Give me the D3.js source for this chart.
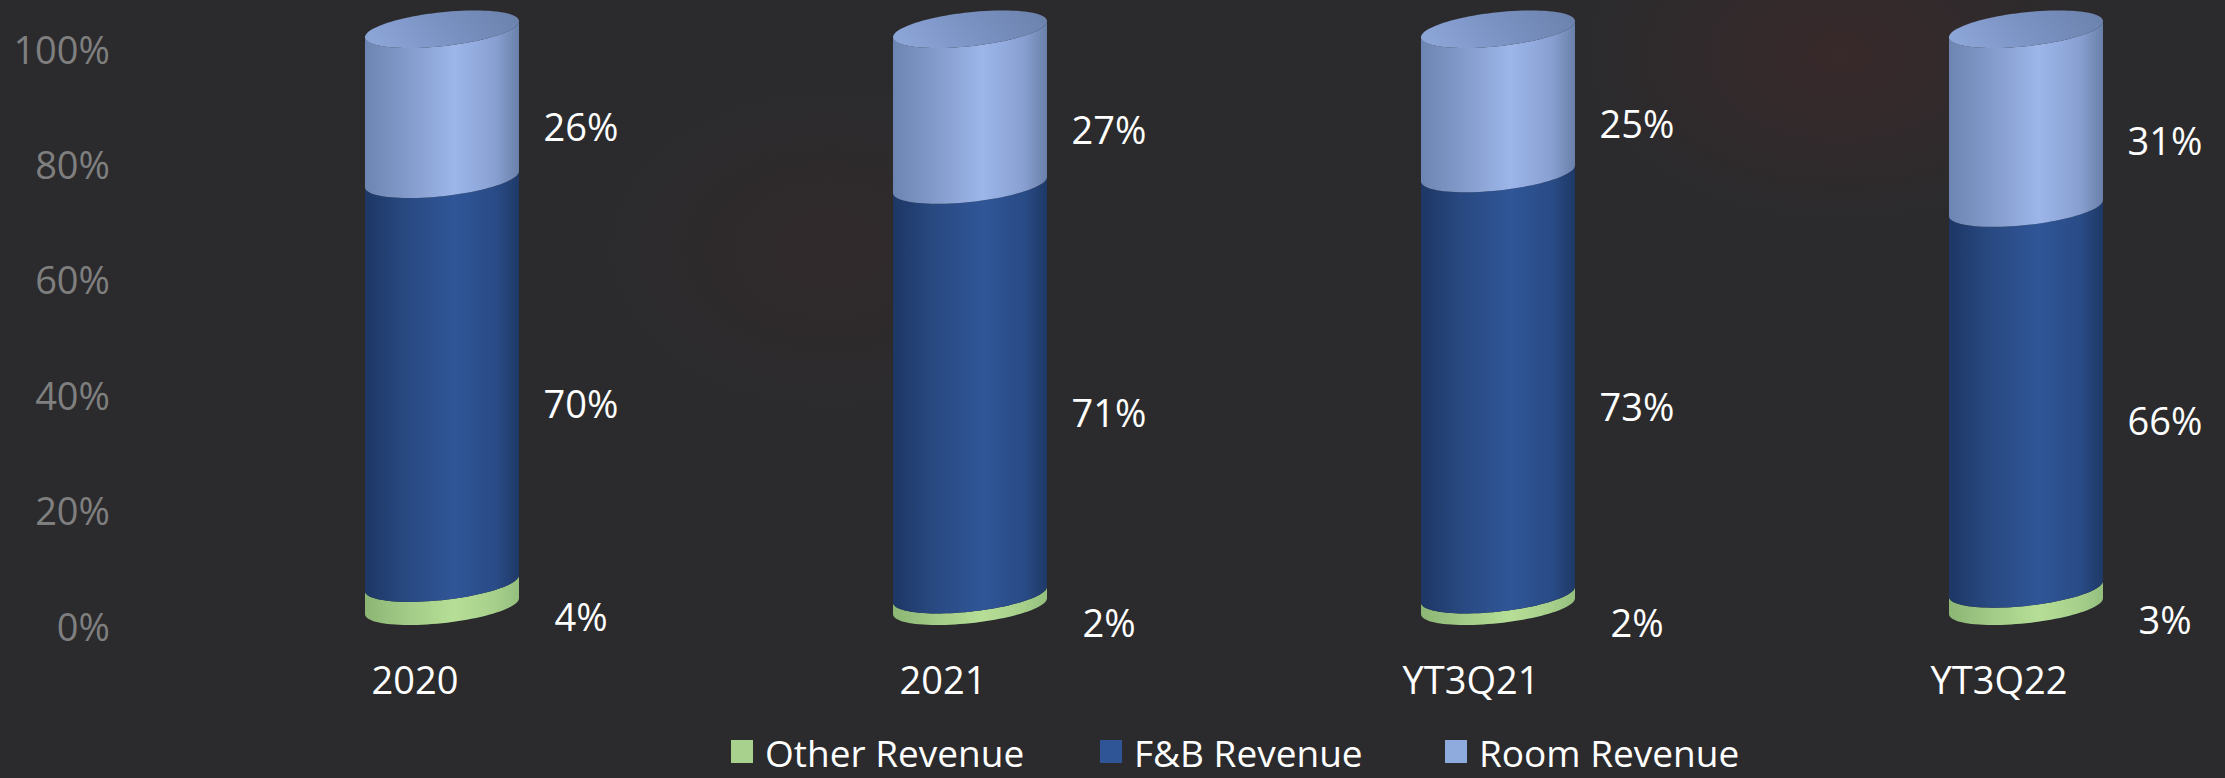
<!DOCTYPE html>
<html>
<head>
<meta charset="utf-8">
<script src="https://cdn.jsdelivr.net/npm/d3@7"></script>
<style>
  html, body { margin: 0; padding: 0; background: #2b2b2d; }
  svg { display: block; }
  text { font-family: "Open Sans", "Noto Sans", sans-serif; }
</style>
</head>
<body>
<svg id="chart" width="2225" height="778"></svg>
<script>
const categories = ["2020", "2021", "YT3Q21", "YT3Q22"];
const otherRevenue = [4, 2, 2, 3];
const fnbRevenue = [70, 71, 73, 66];
const roomRevenue = [26, 27, 25, 31];
const seriesNames = ["Other Revenue", "F&B Revenue", "Room Revenue"];
const seriesColors = ["#a9d18e", "#2f5597", "#8faadc"];
const yTicks = [0, 20, 40, 60, 80, 100];

const W = 2225, H = 778;
const svg = d3.select("#chart");
const defs = svg.append("defs");

// background
svg.append("rect").attr("width", W).attr("height", H).attr("fill", "#2b2b2d");
const glow1 = defs.append("radialGradient").attr("id", "glow1");
glow1.append("stop").attr("offset", 0).attr("stop-color", "rgb(90,35,35)").attr("stop-opacity", 0.28);
glow1.append("stop").attr("offset", 1).attr("stop-color", "rgb(90,35,35)").attr("stop-opacity", 0);
const glow2 = defs.append("radialGradient").attr("id", "glow2");
glow2.append("stop").attr("offset", 0).attr("stop-color", "rgb(80,35,35)").attr("stop-opacity", 0.16);
glow2.append("stop").attr("offset", 1).attr("stop-color", "rgb(80,35,35)").attr("stop-opacity", 0);
svg.append("ellipse").attr("cx", 1840).attr("cy", 55).attr("rx", 260).attr("ry", 170).attr("fill", "url(#glow1)");
svg.append("ellipse").attr("cx", 830).attr("cy", 250).attr("rx", 240).attr("ry", 170).attr("fill", "url(#glow2)");

// gradients
function hGrad(id, stops) {
  const g = defs.append("linearGradient").attr("id", id)
    .attr("x1", 0).attr("y1", 0).attr("x2", 1).attr("y2", 0);
  stops.forEach(([o, c]) => g.append("stop").attr("offset", o).attr("stop-color", c));
}
hGrad("gOther", [[0, "#8db676"], [0.3, "#a3cd88"], [0.58, "#b6de96"], [0.85, "#a6cf8b"], [1, "#95bf7f"]]);
hGrad("gFnb", [[0, "#1d3765"], [0.25, "#284880"], [0.58, "#305698"], [0.85, "#294b86"], [1, "#1e3967"]]);
hGrad("gRoom", [[0, "#6d85b2"], [0.25, "#8199c8"], [0.58, "#9db6ea"], [0.85, "#88a0d1"], [1, "#6a80aa"]]);
const topG = defs.append("linearGradient").attr("id", "gTop")
  .attr("x1", 0).attr("y1", 0.5).attr("x2", 1).attr("y2", 0.3);
topG.append("stop").attr("offset", 0).attr("stop-color", "#8ca5d7");
topG.append("stop").attr("offset", 0.5).attr("stop-color", "#7a92c2");
topG.append("stop").attr("offset", 1).attr("stop-color", "#6c83ae");
const fills = ["url(#gOther)", "url(#gFnb)", "url(#gRoom)"];

// scales
const x = d3.scalePoint().domain(categories).range([415, 1999]);
const y = d3.scaleLinear().domain([0, 100]).range([625, 48]);

// y axis
const yAxis = d3.axisLeft(y).tickValues(yTicks).tickSize(0).tickPadding(0)
  .tickFormat(d => d + "%");
const ag = svg.append("g").attr("transform", "translate(110,3)").call(yAxis);
ag.select(".domain").remove();
ag.selectAll("text").attr("fill", "#7f7f7f").attr("font-size", 38)
  .attr("font-family", "'Open Sans', sans-serif");

// cylinders
const depth = 27, rx = 77, ry = 17, shear = 8;
const halfExt = Math.sqrt(ry * ry + shear * shear);
function pt(cx, cy, t) {
  return [cx + rx * Math.cos(t), cy + ry * Math.sin(t) - shear * Math.cos(t)];
}
function frontArc(cx, cy, fromT, toT) {
  const n = 48, pts = [];
  for (let i = 0; i <= n; i++) pts.push(pt(cx, cy, fromT + (toT - fromT) * i / n));
  return pts;
}
function segPath(cx, v0, v1) {
  const cy0 = y(v0) - halfExt, cy1 = y(v1) - halfExt;
  const pts = frontArc(cx, cy0, Math.PI, 0).concat(frontArc(cx, cy1, 0, Math.PI));
  return "M" + pts.map(p => p.join(",")).join("L") + "Z";
}
function ellPath(cx, v) {
  const cy = y(v) - halfExt, n = 96, pts = [];
  for (let i = 0; i < n; i++) pts.push(pt(cx, cy, 2 * Math.PI * i / n));
  return "M" + pts.map(p => p.join(",")).join("L") + "Z";
}

const series = [otherRevenue, fnbRevenue, roomRevenue];
categories.forEach((cat, i) => {
  const cx = x(cat) + depth;
  const g = svg.append("g");
  let acc = 0;
  series.forEach((s, k) => {
    const v0 = acc, v1 = acc + s[i];
    g.append("path").attr("d", segPath(cx, v0, v1)).attr("fill", fills[k]);
    acc = v1;
  });
  g.append("path").attr("d", ellPath(cx, acc)).attr("fill", "url(#gTop)");

  // data labels
  acc = 0;
  series.forEach((s, k) => {
    const mid = acc + s[i] / 2;
    svg.append("text").attr("x", cx + 139).attr("y", y(mid) + 3)
      .attr("text-anchor", "middle").attr("dominant-baseline", "central")
      .attr("fill", "#ffffff").attr("font-size", 38).text(s[i] + "%");
    acc += s[i];
  });

  // category label
  svg.append("text").attr("x", x(cat)).attr("y", 679)
    .attr("text-anchor", "middle").attr("dominant-baseline", "central")
    .attr("fill", "#ffffff").attr("font-size", 38).text(cat);
});

// legend
const legendX = [731, 1100, 1445];
seriesNames.forEach((name, k) => {
  svg.append("rect").attr("x", legendX[k]).attr("y", 740).attr("width", 22).attr("height", 23)
    .attr("fill", seriesColors[k]);
  svg.append("text").attr("x", legendX[k] + 34).attr("y", 752)
    .attr("dominant-baseline", "central").attr("fill", "#ffffff")
    .attr("font-size", 37).text(name);
});
</script>
</body>
</html>
